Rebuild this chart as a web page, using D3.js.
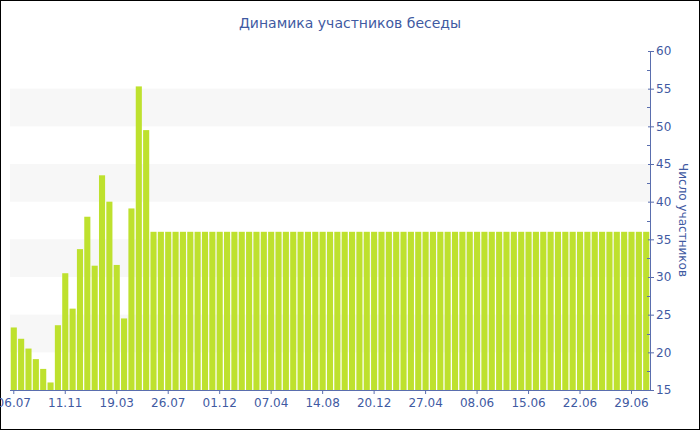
<!DOCTYPE html>
<html><head><meta charset="utf-8">
<script src="https://cdn.jsdelivr.net/npm/d3@7"></script>
<style>
html,body{margin:0;padding:0;background:#fff;}
svg{display:block;}
</style></head>
<body>
<script>
const title = "Динамика участников беседы";
const yTitle = "Число участников";
const values = [23.3, 21.8, 20.5, 19.1, 17.8, 16.0, 23.6, 30.5, 25.8, 33.7, 38.0, 31.5, 43.5, 40.0, 31.6, 24.5, 39.1, 55.3, 49.5,
  36,36,36,36,36,36,36,36,36,36,36,36,36,36,36,36,36,36,36,36,36,36,36,36,36,36,36,36,36,36,36,36,36,36,36,36,36,36,36,36,36,36,36,36,36,36,36,36,36,36,36,36,36,36,36,36,36,36,36,36,36,36,36,36,36,36,36,36];
const tickLabels = ["06.07","11.11","19.03","26.07","01.12","07.04","14.08","20.12","27.04","08.06","15.06","22.06","29.06"];
const tickEvery = 7;
const yTicks = [15,20,25,30,35,40,45,50,55,60];
const bandsFrom = [20,30,40,50];

(function(){
const W = 700, H = 430;
const blue = "#3f5aa2";
const axisCol = "#5a6eae";
const svg = d3.select("body").append("svg").attr("width", W).attr("height", H);
svg.append("rect").attr("x",0.5).attr("y",0.5).attr("width",W-1).attr("height",H-1)
  .attr("fill","#fff").attr("stroke","#000").attr("stroke-width",1);

const pLeft = 10, pRight = 650, pTop = 51, pBottom = 390;
const x = d3.scaleBand().domain(d3.range(values.length)).range([pLeft, pRight]).paddingInner(0.17).paddingOuter(0.1);
const y = d3.scaleLinear().domain([15,60]).range([pBottom, pTop]);

// stripes
svg.append("g").selectAll("rect").data(bandsFrom).join("rect")
  .attr("x", pLeft).attr("width", pRight-pLeft)
  .attr("y", d => y(d+5)).attr("height", d => y(d) - y(d+5))
  .attr("fill", "#f7f7f7");

// bars
svg.append("g").selectAll("rect").data(values).join("rect")
  .attr("x", (d,i) => x(i)).attr("width", x.bandwidth())
  .attr("y", d => y(d)).attr("height", d => pBottom - y(d))
  .attr("fill", "#bee12e");

// x axis
const tickIdx = tickLabels.map((t,i) => i*tickEvery);
const xAxis = d3.axisBottom(x).tickValues(tickIdx).tickFormat((d,i) => tickLabels[i]).tickSize(4).tickSizeOuter(0);
const gx = svg.append("g").attr("transform", `translate(0,${pBottom})`).call(xAxis);
gx.select(".domain").attr("stroke", axisCol).attr("d", `M${pLeft},0.5H${pRight}`);
gx.selectAll(".tick line").attr("stroke", axisCol);
gx.selectAll(".tick text").attr("fill", blue).attr("font-family","DejaVu Sans, Verdana, sans-serif").attr("font-size", 12).attr("dy","0.85em");

// y axis
const yAxis = d3.axisRight(y).tickValues(yTicks).tickSize(4).tickSizeOuter(0).tickPadding(2);
const gy = svg.append("g").attr("transform", `translate(${pRight},0)`).call(yAxis);
gy.select(".domain").attr("stroke", axisCol);
gy.selectAll(".tick line").attr("stroke", axisCol).attr("x1", -2);
gy.selectAll(".tick text").attr("fill", blue).attr("font-family","DejaVu Sans, Verdana, sans-serif").attr("font-size", 12);
// minor ticks
const minor = d3.range(17.5, 60, 5);
svg.append("g").selectAll("line").data(minor).join("line")
  .attr("x1", pRight-3).attr("x2", pRight).attr("y1", d => Math.round(y(d))+0.5).attr("y2", d => Math.round(y(d))+0.5)
  .attr("stroke", axisCol);

// titles
svg.append("text").attr("x", 350).attr("y", 28).attr("text-anchor","middle")
  .attr("fill", blue).attr("font-family","DejaVu Sans, Verdana, sans-serif").attr("font-size", 14).text(title);
svg.append("text").attr("transform", `translate(679,220) rotate(90)`).attr("text-anchor","middle")
  .attr("fill", blue).attr("font-family","DejaVu Sans, Verdana, sans-serif").attr("font-size", 12).text(yTitle);
})();
</script>
</body></html>
